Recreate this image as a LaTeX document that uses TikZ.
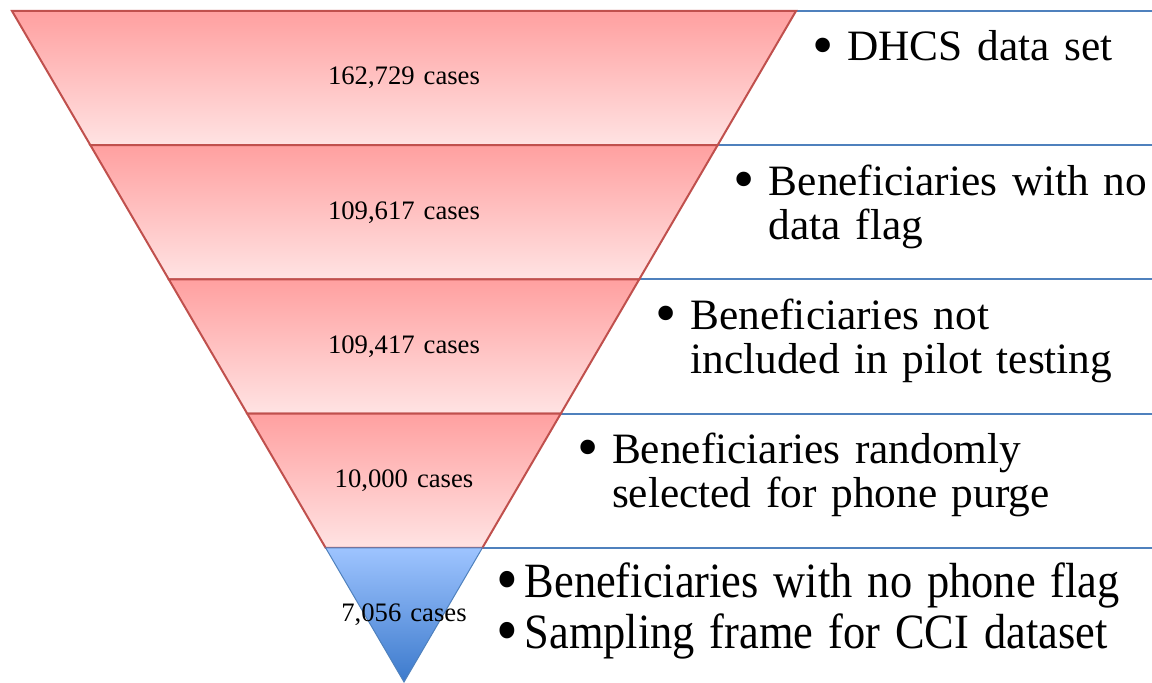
\documentclass[tikz,border=0pt]{standalone}
\usepackage{fontspec}
\setmainfont{Liberation Serif}[WordSpace=1.35]
\newfontfamily\narrowfont{Liberation Serif}[WordSpace=1.35, FakeStretch=0.9]
\definecolor{segred}{HTML}{C0504D}
\definecolor{segtop}{HTML}{FFA0A0}
\definecolor{segbot}{HTML}{FFE3E3}
\definecolor{tipblue}{HTML}{4F81BD}
\definecolor{tiptop}{HTML}{9EC4FF}
\definecolor{tipbot}{HTML}{3C7ACC}
\newcommand{\dotmark}{\raisebox{-.1em}{\scalebox{1.4}{\textbullet}}}
\newcommand{\bul}{\makebox[26.25pt][l]{\dotmark}}
\newcommand{\items}[1]{\begin{tabular}[t]{@{}l@{}l@{}}#1\end{tabular}}

\begin{document}
\begin{tikzpicture}[x=0.75pt, y=0.75pt,
  seg/.style={draw=segred, line width=1.5pt, top color=segtop, bottom color=segbot},
  tip/.style={draw=tipblue, line width=0.75pt, top color=tiptop, bottom color=tipbot},
  rule/.style={draw=tipblue, line width=1.5pt},
  count/.style={font=\fontsize{20}{24}\selectfont, inner sep=0pt},
  note/.style={font=\fontsize{32.5}{33}\selectfont, anchor=base west, inner sep=0pt}]
\useasboundingbox (0,0) rectangle (1152,682);
\foreach \i in {0,...,5}{
    \coordinate (l\i) at ({404-78.4*(5-\i)}, {671-134.2*\i});
    \coordinate (r\i) at ({404+78.4*(5-\i)}, {671-134.2*\i});
    \coordinate (e\i) at (1152, {671-134.2*\i});}
\foreach \i in {0,...,4}
    \draw[rule] (r\i) -- (e\i);
\foreach \i/\j in {0/1, 1/2, 2/3, 3/4}
    \shadedraw[seg] (l\i) -- (r\i) -- (r\j) -- (l\j) -- cycle;
\shadedraw[tip] (l4) -- (r4) -- (r5) -- cycle;% blue tip of the funnel
\foreach \i/\n in {0/{162,729 cases}, 1/{109,617 cases}, 2/{109,417 cases}, 3/{10,000 cases}, 4/{7,056 cases}}
    \node[count] (c\i) at (404, {671-134.2*(\i+.5)}) {\n};
\node[note] (n0) at ([shift={(16,-50)}]r0) {\items{\bul & DHCS data set}};
\foreach \i/\a/\b in {1/{Beneficiaries with no}/{data flag}, 2/{Beneficiaries not}/{included in pilot testing}, 3/{Beneficiaries randomly}/{selected for phone purge}}
    \node[note] (n\i) at ([shift={(16,-50)}]r\i) {\items{\bul & \a\\ & \b}};
\node[note, font=\fontsize{37}{38.25}\narrowfont] (n4) at ([shift={(14,-50)}]r4)
    {\items{\makebox[21pt][l]{\dotmark} & Beneficiaries with no phone flag\\ \makebox[21pt][l]{\dotmark} & Sampling frame for CCI dataset}};
\end{tikzpicture}
\end{document}
